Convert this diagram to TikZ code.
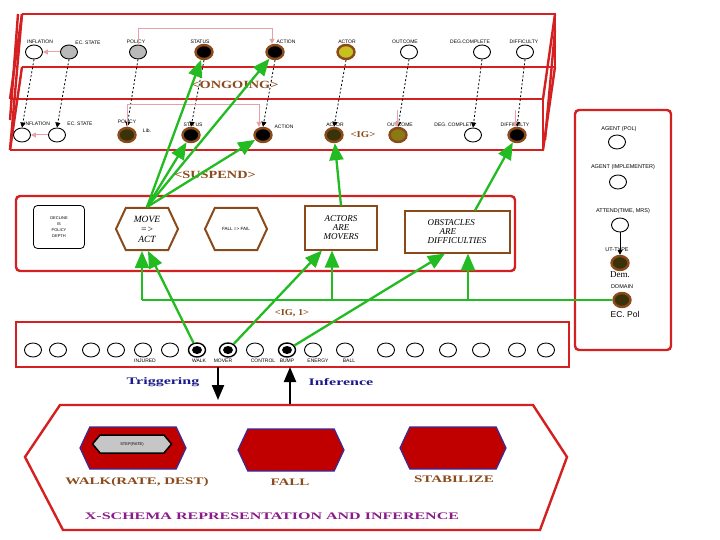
\documentclass[tikz,border=0pt]{standalone}
\usepackage{fontspec}
\setmainfont{Liberation Serif}
\newfontfamily\lab{Liberation Sans}
\usetikzlibrary{shapes.geometric,shapes.symbols,arrows.meta}
\definecolor{fr}{HTML}{D42020}
\definecolor{rb}{HTML}{8B4A1A}
\definecolor{brn}{HTML}{8B4A1A}
\definecolor{dk}{HTML}{3A3208}
\definecolor{yl}{HTML}{C8C020}
\definecolor{ol}{HTML}{8A7A14}
\definecolor{gr}{HTML}{22BB22}
\definecolor{pnk}{HTML}{E8A0A8}
\definecolor{nv}{HTML}{1A1A8A}
\definecolor{pu}{HTML}{8B1A8B}
\definecolor{hr}{HTML}{C00000}
\definecolor{hb}{HTML}{3A2A9A}
\tikzset{
  frame/.style={draw=fr, line width=2.4pt},
  thinframe/.style={draw=fr, line width=1.3pt},
  wc/.style={ellipse, draw=black, line width=0.9pt, fill=white, minimum width=17pt, minimum height=14pt, inner sep=0pt},
  gc/.style={wc, fill=gray!55},
  ring/.style={ellipse, draw=rb, line width=2.4pt, minimum width=17pt, minimum height=14pt, inner sep=0pt},
  bc/.style={ring, fill=black},
  dc/.style={ring, fill=dk},
  yc/.style={ring, fill=yl},
  oc/.style={ring, fill=ol},
  bull/.style={wc, line width=1.4pt, path picture={\fill[black] (path picture bounding box.center) ellipse (5pt and 4pt);}},
  sl/.style={font=\lab\fontsize{5}{6}\selectfont, inner sep=0pt},
  rl/.style={font=\lab\fontsize{5.5}{6}\selectfont, inner sep=0pt},
  big/.style={font=\bfseries\fontsize{11}{12}\selectfont, text=brn, inner sep=0pt},
  garr/.style={draw=gr, line width=2.3pt, -{Triangle[length=17pt,width=14pt]}},
  gline/.style={draw=gr, line width=2.3pt},
  dotarr/.style={draw=black, line width=0.8pt, dash pattern=on 2pt off 2pt, -{Triangle[length=5pt,width=5pt]}},
  pk/.style={draw=pnk, line width=1pt, -{Triangle[length=5pt,width=5pt]}},
  hexb/.style={signal, signal to=east and west, signal pointer angle=130, draw=rb, line width=2pt, fill=white, minimum width=62pt, minimum height=42pt, inner sep=0pt},
  hexr/.style={signal, signal to=east and west, signal pointer angle=130, draw=hb, line width=1.2pt, fill=hr, minimum width=106pt, minimum height=42pt, inner sep=0pt},
  mbox/.style={draw=rb, line width=2pt, fill=white, inner sep=0pt, font=\itshape\fontsize{9}{9}\selectfont},
  barr/.style={draw=black, line width=2.2pt, -{Triangle[length=15pt,width=12pt]}},
  bl/.style={font=\bfseries\fontsize{10}{11}\selectfont, text=brn, inner sep=0pt},
}
\begin{document}
\begin{tikzpicture}[x=1pt,y=-1pt]
\useasboundingbox[fill=white] (0,0) rectangle (720,540);

% ---------- top 3D frame ----------
\draw[frame] (22,14) -- (555,14) -- (555,67) -- (22,67);
\draw[thinframe] (10,99) -- (543,99);
\draw[frame] (10,150) -- (543,150) -- (543,99);
\draw[frame] (22,14) -- (10,150);
\draw[frame] (22,14) -- (10,99);
\draw[frame] (22,67) -- (10,150);
\draw[frame] (18,14) -- (10,120);
\draw[frame] (555,14) -- (543,99);
\draw[frame] (555,67) -- (543,150);
\draw[frame] (555,30) -- (545,140);

% ---------- upper row ----------
\node[wc] (uInf) at (34,52) {};
\node[gc] (uEc) at (69,52) {};
\node[gc] (uPol) at (138,52) {};
\node[bc] (uSta) at (204,52) {};
\node[bc] (uAct) at (275,52) {};
\node[yc] (uActr) at (346,52) {};
\node[wc] (uOut) at (409,52) {};
\node[wc] (uDeg) at (482,52) {};
\node[wc] (uDif) at (525,52) {};
\node[sl] at (40,42) {INFLATION};
\node[sl] at (88,43) {EC. STATE};
\node[sl] at (136,42) {POLICY};
\node[sl] at (200,42) {STATUS};
\node[sl] at (286,42) {ACTION};
\node[sl] at (347,42) {ACTOR};
\node[sl] at (405,42) {OUTCOME};
\node[sl] at (470,42) {DEG.COMPLETE};
\node[sl] at (524,42) {DIFFICULTY};

% ---------- lower row ----------
\node[wc] (lInf) at (22,135) {};
\node[wc] (lEc) at (57,135) {};
\node[dc] (lPol) at (127,135) {};
\node[bc] (lSta) at (191,135) {};
\node[bc] (lAct) at (263,135) {};
\node[dc] (lActr) at (334,135) {};
\node[oc] (lOut) at (398,135) {};
\node[wc] (lDeg) at (473,135) {};
\node[bc] (lDif) at (517,135) {};
\node[sl] at (37,124) {INFLATION};
\node[sl] at (80,124) {EC. STATE};
\node[sl] at (127,122) {POLICY};
\node[sl] at (193,125) {STATUS};
\node[sl] at (284,127) {ACTION};
\node[sl] at (335,125) {ACTOR};
\node[sl] at (400,125) {OUTCOME};
\node[sl] at (455,125) {DEG. COMPLETE};
\node[sl] at (515,125) {DIFFICULTY};
\node[sl] at (147,131) {Lib.};
\node[big] at (363,135) {\scalebox{1.2}[1]{\fontsize{9}{10}\selectfont <IG>}};

% dotted mappings
\draw[dotarr] (uInf.south) -- (lInf.north);
\draw[dotarr] (uEc.south) -- (lEc.north);
\draw[dotarr] (uPol.south) -- (lPol.north);
\draw[dotarr] (uSta.south) -- (lSta.north);
\draw[dotarr] (uAct.south) -- (lAct.north);
\draw[dotarr] (uActr.south) -- (lActr.north);
\draw[dotarr] (uOut.south) -- (lOut.north);
\draw[dotarr] (uDeg.south) -- (lDeg.north);
\draw[dotarr] (uDif.south) -- (lDif.north);

% pink links
\draw[pk] (uEc.west) -- (uInf.east);
\draw[pk] (lEc.west) -- (lInf.east);
\draw[pk] (uPol.north) -- ++(0,-16) -| ([xshift=-3pt]uAct.north);
\draw[pk] (lPol.north) -- ++(0,-22) -| ([xshift=-4pt]lAct.north);
\coordinate (pO) at (397,110);
\coordinate (pD) at (515,110);
\draw[pk] (pO) -- (pO |- lOut.north);
\draw[pk] (pD) -- (pD |- lDif.north);

\node[big] at (235,85) {\scalebox{1.3}[1]{<ONGOING>}};
\node[big] at (215,175) {\scalebox{1.3}[1]{<SUSPEND>}};

% ---------- middle frame ----------
\draw[frame, rounded corners=4pt] (16,196) rectangle (515,271);
\node[draw=black, line width=0.8pt, rounded corners=4pt, minimum width=51pt, minimum height=43pt, align=center, inner sep=0pt,
      font=\lab\fontsize{4}{6}\selectfont] (db) at (59,227) {DECLINE\\IS\\POLICY\\DEPTH};
\node[hexb, align=center, font=\itshape\fontsize{9.5}{10}\selectfont] (mv) at (147,229) {MOVE\\=>\\ACT};
\node[hexb, font=\lab\fontsize{4.5}{5}\selectfont] (fl) at (236,229) {FALL => FAIL};
\node[mbox, minimum width=72pt, minimum height=43pt, align=center] (am) at (341,228) {ACTORS\\ARE\\MOVERS};
\node[mbox, minimum width=105pt, minimum height=41pt, align=left] (ob) at (457,232) {OBSTACLES\\\hspace{12pt}ARE\\DIFFICULTIES};

% ---------- right panel ----------
\draw[frame, rounded corners=4pt] (575,110) rectangle (671,350);
\node[rl] at (619,129) {AGENT (POL)};
\node[wc] (rA) at (617,142) {};
\node[rl] at (623,167) {AGENT (IMPLEMENTER)};
\node[wc] (rB) at (618,182) {};
\node[rl] at (623,211) {ATTEND(TIME, MRS)};
\node[wc] (rC) at (620,225) {};
\node[rl] at (617,250) {UT-TYPE};
\node[dc] (rD) at (620,263) {};
\node[font=\fontsize{9}{10}\selectfont, inner sep=0pt] at (620,275) {Dem.};
\node[rl] at (622,287) {DOMAIN};
\node[dc] (dom) at (622,300) {};
\node[font=\lab\fontsize{8.5}{10}\selectfont, inner sep=0pt] at (625,314) {EC. Pol};
\draw[draw=black, line width=0.8pt, -{Triangle[length=5pt,width=5pt]}] (rC.south) -- (rD.north);

% ---------- bottom row of units ----------
\draw[frame] (16,322) rectangle (569,367);
\foreach \n/\x in {1/33,2/58,3/91,4/116,5/143,6/170,8/255,10/313,11/345,12/386,13/415,14/448,15/481,16/517,17/546}
  \node[wc] (b\n) at (\x,350) {};
\node[bull] (walk) at (197,350) {};
\node[bull] (mover) at (228,350) {};
\node[bull] (bump) at (287,350) {};
\node[sl] at (145,361) {INJURED};
\node[sl] at (199,361) {WALK};
\node[sl] at (223,361) {MOVER};
\node[sl] at (263,361) {CONTROL};
\node[sl] at (287,361) {BUMP};
\node[sl] at (318,361) {ENERGY};
\node[sl] at (349,361) {BALL};
\node[big] at (292,313) {\scalebox{1.15}[1]{\fontsize{9}{10}\selectfont <IG, 1>}};

% ---------- green mapping arrows ----------
\draw[garr] (mv.north) -- (uSta);
\draw[garr] (mv.north) -- (uAct);
\draw[garr] (mv.north) -- (lSta);
\draw[garr] (mv.north) -- (lAct);
\draw[garr] (am.north) -- (lActr);
\draw[garr] ([xshift=18pt]ob.north) -- (lDif);
\coordinate (gL) at (142,300);
\coordinate (gM) at (332,300);
\coordinate (gR) at (468,300);
\draw[gline] (dom.west) -- (gL);
\draw[garr] (gL) -- (gL |- mv.south);
\draw[garr] (gM) -- (gM |- am.south);
\draw[garr] (gR) -- (gR |- ob.south);
\draw[garr] (walk) -- ([xshift=1pt]mv.south);
\draw[garr] (mover) -- ([xshift=-19pt]am.south);
\draw[garr] (bump) -- ([xshift=-12pt]ob.south);

% ---------- triggering / inference ----------
\coordinate (t1) at (218,367);
\coordinate (t2) at (218,400);
\coordinate (i1) at (290,405);
\coordinate (i2) at (290,367);
\draw[barr] (t1) -- (t2);
\draw[barr] (i1) -- (i2);
\node[font=\bfseries\fontsize{10}{11}\selectfont, text=nv, inner sep=0pt] at (163,382) {\scalebox{1.6}[1]{Triggering}};
\node[font=\bfseries\fontsize{10}{11}\selectfont, text=nv, inner sep=0pt] at (341,382) {\scalebox{1.6}[1]{Inference}};

% ---------- x-schema frame ----------
\draw[frame] (60,405) -- (533,405) -- (567,457) -- (540,530) -- (63,530) -- (25,457) -- cycle;
\node[hexr] (hw) at (133,448) {};
\node[signal, signal to=east and west, signal pointer angle=100, draw=black, line width=1.5pt, fill=gray!45,
      minimum width=79pt, minimum height=18pt, inner sep=0pt, font=\lab\fontsize{4}{5}\selectfont] (st) at (132,444) {STEP(RATE)};
\node[hexr] (hf) at (291,450) {};
\node[hexr] (hs) at (453,448) {};
\node[bl] at (137,482) {\scalebox{1.5}[1]{WALK(RATE, DEST)}};
\node[bl] at (290,482) {\scalebox{1.5}[1]{FALL}};
\node[bl] at (454,479) {\scalebox{1.5}[1]{STABILIZE}};
\node[font=\bfseries\fontsize{10}{11}\selectfont, text=pu, inner sep=0pt] at (272,516) {\scalebox{1.6}[1]{X-SCHEMA REPRESENTATION AND INFERENCE}};
\end{tikzpicture}
\end{document}
